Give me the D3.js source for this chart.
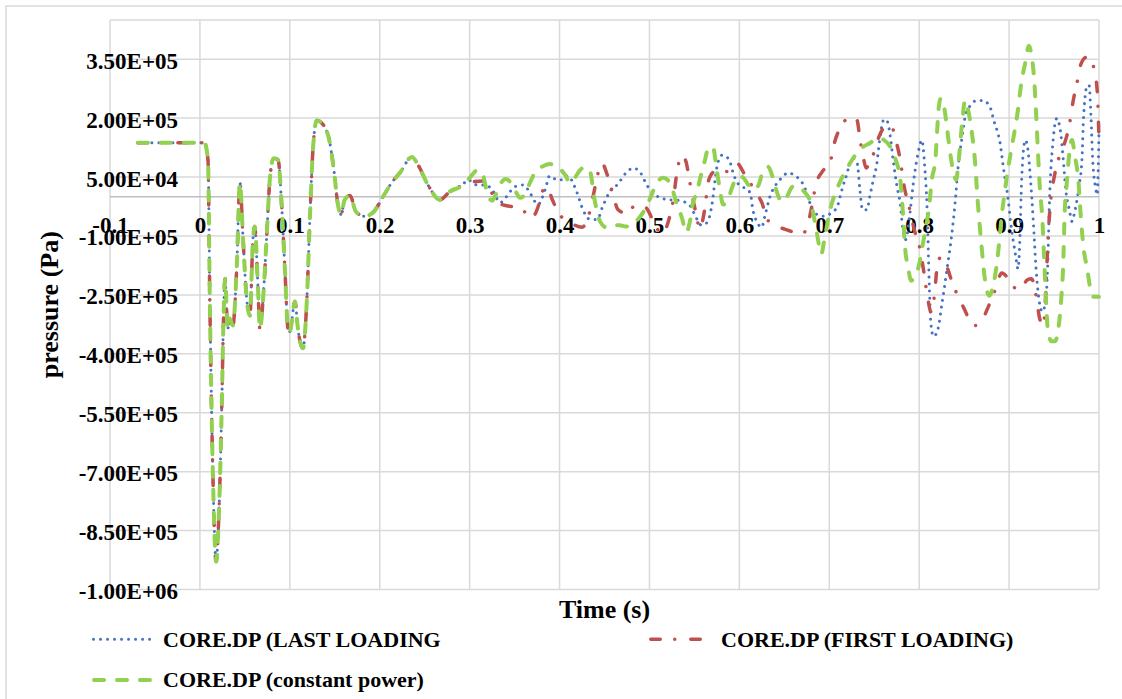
<!DOCTYPE html>
<html>
<head>
<meta charset="utf-8">
<script src="https://cdn.jsdelivr.net/npm/d3@7"></script>
<style>
  body { margin: 0; background: #fff; }
  svg { display: block; }
  text { font-family: "Liberation Serif", "Times New Roman", serif; font-weight: bold; fill: #000; }
</style>
</head>
<body>
<svg id="chart" width="1122" height="699"></svg>
<script>
// ---- Data: core differential pressure (kPa) against time (s) ----

// Start-up transient, common to the three runs
const startup = [
  [-0.069,137],[-0.04,137],[-0.01,137],[0.005,137],[0.009,93],[0.011,-260],[0.0145,-714],
  [0.018,-929],[0.021,-815],[0.0245,-512],[0.026,-336],[0.028,-209],[0.031,-336],[0.033,-310],
  [0.0367,-328],[0.041,-177],[0.0445,35],[0.048,-108],[0.052,-260],[0.0556,-303],[0.059,-108],
  [0.061,-76],[0.0645,-227],[0.0667,-336],[0.071,-235],[0.0745,-91],[0.078,50],[0.082,98],
  [0.087,93],[0.091,-25],[0.0945,-184],[0.098,-336],[0.100,-343],[0.1057,-267],[0.109,-336],
  [0.1146,-386],[0.119,-260],[0.1224,-50],[0.1257,119],[0.130,194],[0.1368,184],[0.1446,136],
  [0.149,68],[0.1535,-20],[0.157,-45],[0.161,-8],[0.167,3],[0.1735,-38],[0.1835,-50],
  [0.1935,-38],[0.2036,0],[0.2147,40],[0.2225,61],[0.2358,101],[0.2425,81],[0.2536,30],
  [0.267,-8],[0.278,13],[0.2914,28]
];

// CORE.DP (LAST LOADING)
const lastLoading = [
  [0.298,43],[0.308,30],[0.317,30],[0.325,18],[0.334,-15],[0.341,0],[0.350,25],[0.360,30],
  [0.367,10],[0.376,-20],[0.384,18],[0.389,53],[0.397,43],[0.404,43],[0.409,53],[0.419,13],
  [0.426,-33],[0.434,-58],[0.442,-58],[0.448,-25],[0.456,13],[0.464,30],[0.475,63],[0.482,73],
  [0.490,61],[0.497,30],[0.504,10],[0.512,-3],[0.523,-8],[0.534,-10],[0.545,-23],[0.553,-58],
  [0.558,-73],[0.564,-66],[0.570,-13],[0.573,43],[0.576,86],[0.581,106],[0.586,101],[0.590,86],
  [0.593,61],[0.598,35],[0.605,23],[0.612,10],[0.615,-33],[0.620,-66],[0.625,-78],[0.628,-53],
  [0.634,0],[0.642,35],[0.648,50],[0.654,61],[0.662,53],[0.670,35],[0.675,10],[0.681,-33],
  [0.686,-45],[0.693,-50],[0.703,-40],[0.709,-25],[0.712,0],[0.715,25],[0.720,61],[0.723,86],
  [0.726,98],[0.731,86],[0.734,18],[0.737,-33],[0.742,-33],[0.745,0],[0.749,43],[0.753,86],
  [0.756,144],[0.761,197],[0.764,194],[0.768,151],[0.771,93],[0.775,30],[0.779,-20],[0.782,-88],
  [0.785,-109],[0.790,-38],[0.793,25],[0.798,101],[0.803,144],[0.806,81],[0.809,-45],[0.811,-209],
  [0.813,-323],[0.816,-356],[0.821,-336],[0.825,-278],[0.831,-184],[0.836,-101],[0.840,-15],
  [0.843,68],[0.848,156],[0.852,212],[0.857,232],[0.864,245],[0.871,245],[0.879,227],[0.883,194],
  [0.890,136],[0.894,68],[0.899,-8],[0.902,-71],[0.907,-146],[0.910,-184],[0.912,-109],[0.914,43],
  [0.918,144],[0.921,119],[0.923,68],[0.927,-66],[0.930,-184],[0.934,-273],[0.937,-293],
  [0.941,-260],[0.943,-172],[0.945,-8],[0.949,144],[0.953,199],[0.957,169],[0.960,101],[0.963,18],
  [0.967,-33],[0.970,-63],[0.973,-38],[0.978,30],[0.981,93],[0.983,207],[0.987,283],[0.989,283],
  [0.991,207],[0.993,93],[0.996,25],[0.998,5],[1.000,169]
];

// CORE.DP (FIRST LOADING)
const firstLoading = [
  [0.304,38],[0.315,40],[0.325,8],[0.331,-15],[0.341,-23],[0.353,-28],[0.362,-40],[0.369,-56],
  [0.375,-33],[0.382,18],[0.386,25],[0.392,-8],[0.400,-45],[0.412,-66],[0.425,-78],[0.434,-35],
  [0.440,30],[0.447,86],[0.453,56],[0.459,10],[0.465,-33],[0.475,-43],[0.485,-20],[0.496,-28],
  [0.506,-71],[0.514,-96],[0.521,-63],[0.526,-15],[0.531,68],[0.536,106],[0.541,86],[0.544,48],
  [0.547,10],[0.552,-45],[0.556,-83],[0.561,-38],[0.566,43],[0.572,63],[0.578,61],[0.585,63],
  [0.592,81],[0.597,86],[0.606,56],[0.612,35],[0.620,5],[0.625,-15],[0.631,-58],[0.640,-73],
  [0.651,-83],[0.662,-91],[0.671,-93],[0.676,-71],[0.681,-20],[0.685,30],[0.692,63],[0.701,88],
  [0.706,139],[0.713,179],[0.720,199],[0.726,204],[0.731,194],[0.734,149],[0.738,98],[0.741,73],
  [0.745,88],[0.750,114],[0.755,151],[0.762,177],[0.769,179],[0.774,144],[0.779,93],[0.783,30],
  [0.789,-28],[0.795,-88],[0.801,-134],[0.805,-189],[0.810,-265],[0.813,-293],[0.817,-250],
  [0.820,-179],[0.824,-154],[0.830,-174],[0.838,-227],[0.843,-252],[0.850,-285],[0.857,-318],
  [0.863,-328],[0.870,-315],[0.876,-285],[0.884,-240],[0.892,-194],[0.899,-209],[0.905,-230],
  [0.913,-237],[0.920,-212],[0.925,-209],[0.930,-252],[0.934,-310],[0.938,-328],[0.941,-235],
  [0.943,-121],[0.947,5],[0.950,48],[0.954,88],[0.961,131],[0.967,182],[0.971,240],[0.976,295],
  [0.980,338],[0.986,355],[0.991,352],[0.994,330],[0.998,270],[1.000,144]
];

// CORE.DP (constant power)
const constantPower = [
  [0.300,48],[0.309,68],[0.315,53],[0.320,5],[0.325,-10],[0.329,5],[0.335,35],[0.340,45],
  [0.346,35],[0.352,10],[0.356,-3],[0.362,8],[0.367,35],[0.373,63],[0.382,78],[0.389,83],
  [0.397,78],[0.406,56],[0.412,35],[0.417,48],[0.423,68],[0.428,76],[0.434,63],[0.439,-8],
  [0.445,-63],[0.452,-78],[0.459,-73],[0.467,-73],[0.474,-76],[0.481,-71],[0.487,-58],[0.493,-40],
  [0.501,-3],[0.507,30],[0.515,48],[0.523,35],[0.529,-8],[0.536,-53],[0.541,-91],[0.545,-63],
  [0.548,-20],[0.553,13],[0.556,43],[0.561,86],[0.566,126],[0.571,124],[0.574,81],[0.578,23],
  [0.582,-20],[0.587,-8],[0.593,30],[0.597,50],[0.603,50],[0.610,30],[0.615,18],[0.621,28],
  [0.625,56],[0.632,76],[0.637,50],[0.643,3],[0.647,-13],[0.652,-3],[0.659,25],[0.664,28],
  [0.670,18],[0.675,5],[0.680,-20],[0.683,-53],[0.687,-103],[0.691,-146],[0.695,-103],[0.701,-33],
  [0.706,5],[0.712,38],[0.720,73],[0.729,106],[0.736,124],[0.745,136],[0.754,149],[0.761,144],
  [0.768,126],[0.774,93],[0.779,43],[0.782,-45],[0.784,-121],[0.788,-184],[0.791,-214],
  [0.795,-204],[0.800,-172],[0.803,-134],[0.808,-71],[0.811,-28],[0.814,43],[0.818,93],[0.820,169],
  [0.822,232],[0.824,250],[0.828,225],[0.831,174],[0.834,119],[0.838,63],[0.841,43],[0.844,93],
  [0.848,194],[0.851,245],[0.854,225],[0.859,156],[0.862,93],[0.865,-8],[0.869,-116],[0.873,-209],
  [0.878,-252],[0.882,-230],[0.887,-159],[0.892,-45],[0.897,43],[0.902,114],[0.909,207],
  [0.914,295],[0.918,341],[0.922,384],[0.925,358],[0.928,295],[0.930,214],[0.932,119],[0.934,30],
  [0.937,-58],[0.939,-159],[0.941,-260],[0.943,-336],[0.947,-368],[0.951,-368],[0.954,-348],
  [0.958,-260],[0.960,-184],[0.962,-33],[0.964,30],[0.968,131],[0.970,144],[0.973,106],[0.977,43],
  [0.980,-58],[0.983,-134],[0.987,-184],[0.990,-230],[0.994,-255],[1.000,-255]
];

// Axis ticks
const timeTicks = [-0.1, 0, 0.1, 0.2, 0.3, 0.4, 0.5, 0.6, 0.7, 0.8, 0.9, 1];
const timeTickLabels = ["-0.1", "0", "0.1", "0.2", "0.3", "0.4", "0.5", "0.6", "0.7", "0.8", "0.9", "1"];
const pressureTicks = [-1e6, -8.5e5, -7e5, -5.5e5, -4e5, -2.5e5, -1e5, 5e4, 2e5, 3.5e5];
const pressureMax = 4.5e5;

const seriesNames = ["CORE.DP (LAST LOADING", "CORE.DP (FIRST LOADING)", "CORE.DP (constant power)"];

// ---- Drawing ----
const svg = d3.select("#chart");

const x = d3.scaleLinear().domain([-0.1, 1]).range([110, 1099]);
const y = d3.scaleLinear().domain([-1e6, pressureMax]).range([589.5, 19.9]);

// Chart-area border
svg.append("rect")
  .attr("x", 6).attr("y", 6).attr("width", 1140).attr("height", 740)
  .attr("fill", "none").attr("stroke", "#d9d9d9").attr("stroke-width", 1.5);

// Gridlines
const grid = svg.append("g").attr("stroke", "#d9d9d9").attr("stroke-width", 1.5);
grid.selectAll("line.h").data(pressureTicks.concat([pressureMax])).join("line")
  .attr("class", "h")
  .attr("x1", x(-0.1)).attr("x2", x(1))
  .attr("y1", d => y(d)).attr("y2", d => y(d));
grid.selectAll("line.v").data(timeTicks).join("line")
  .attr("class", "v")
  .attr("x1", d => x(d)).attr("x2", d => x(d))
  .attr("y1", y(pressureMax)).attr("y2", y(-1e6));

// Horizontal axis line at zero pressure
svg.append("line")
  .attr("x1", x(-0.1)).attr("x2", x(1))
  .attr("y1", y(0)).attr("y2", y(0))
  .attr("stroke", "#bfbfbf").attr("stroke-width", 1.5);

// Tick labels
function sciLabel(v) {
  const [m, e] = v.toExponential(2).split("e");
  const ex = +e;
  return m + "E" + (ex < 0 ? "-" : "+") + String(Math.abs(ex)).padStart(2, "0");
}

const yAxis = svg.append("g")
  .attr("transform", `translate(${x(-0.1)},0)`)
  .call(d3.axisLeft(y).tickValues(pressureTicks).tickFormat(sciLabel).tickSize(0).tickPadding(0));
yAxis.select(".domain").remove();
yAxis.selectAll("text")
  .attr("x", 178 - x(-0.1)).attr("dy", 9).attr("text-anchor", "end")
  .style("font-family", "'Liberation Serif', 'Times New Roman', serif")
  .style("font-weight", "bold").style("font-size", "23px").attr("fill", "#000");

const xAxis = svg.append("g")
  .attr("transform", `translate(0,${y(0)})`)
  .call(d3.axisBottom(x).tickValues(timeTicks)
    .tickFormat((d, i) => timeTickLabels[i]).tickSize(0).tickPadding(0));
xAxis.select(".domain").remove();
xAxis.selectAll("text")
  .attr("y", 36.5).attr("dy", 0)
  .style("font-family", "'Liberation Serif', 'Times New Roman', serif")
  .style("font-weight", "bold").style("font-size", "23px").attr("fill", "#000");

// Axis titles
svg.append("text")
  .attr("x", x(0.45)).attr("y", 618)
  .attr("text-anchor", "middle").style("font-size", "26px")
  .text("Time (s)");
svg.append("text")
  .attr("transform", `translate(58,${(y(pressureMax) + y(-1e6)) / 2}) rotate(-90)`)
  .attr("text-anchor", "middle").style("font-size", "26px")
  .text("pressure (Pa)");

// Series styles
const styles = [
  { color: "#4472C4", width: 3, dash: "0.01 7", cap: "round" },
  { color: "#C0504D", width: 3.5, dash: "9.5 14.5 0.01 16", cap: "round" },
  { color: "#92D050", width: 4, dash: "10 13", cap: "round" }
];

const seriesData = [lastLoading, firstLoading, constantPower].map(tail => startup.concat(tail));

const line = d3.line()
  .x(d => x(d[0]))
  .y(d => y(d[1] * 1000))
  .curve(d3.curveMonotoneX);

svg.append("g").selectAll("path").data(seriesData).join("path")
  .attr("d", line)
  .attr("fill", "none")
  .attr("stroke", (d, i) => styles[i].color)
  .attr("stroke-width", (d, i) => styles[i].width)
  .attr("stroke-dasharray", (d, i) => styles[i].dash)
  .attr("stroke-linecap", (d, i) => styles[i].cap)
  .attr("stroke-linejoin", "round");

// Legend
const legendItems = [
  { x1: 93.5, x2: 155, tx: 163, ly: 639.3, ty: 647 },
  { x1: 650.75, x2: 701.25, tx: 721, ly: 639.3, ty: 647 },
  { x1: 94, x2: 154, tx: 163, ly: 680, ty: 687 }
];
const legend = svg.append("g");
legendItems.forEach((item, i) => {
  legend.append("line")
    .attr("x1", item.x1).attr("x2", item.x2)
    .attr("y1", item.ly).attr("y2", item.ly)
    .attr("stroke", styles[i].color)
    .attr("stroke-width", styles[i].width)
    .attr("stroke-dasharray", styles[i].dash)
    .attr("stroke-linecap", styles[i].cap);
  legend.append("text")
    .attr("x", item.tx).attr("y", item.ty)
    .style("font-size", "22px")
    .text(seriesNames[i]);
});
</script>
</body>
</html>
